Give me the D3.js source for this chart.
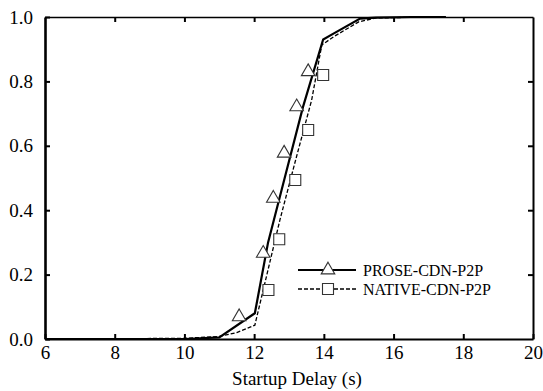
<!DOCTYPE html>
<html>
<head>
<meta charset="utf-8">
<script src="https://cdn.jsdelivr.net/npm/d3@7"></script>
<style>
  body { margin: 0; background: #fff; }
</style>
</head>
<body>
<div id="chart"></div>
<script>
// curve data
var proseX = [6, 10, 11, 12.02, 12.4, 12.9, 13.4, 13.98, 14.3, 15.04, 15.5, 16.5, 17.5];
var proseY = [0, 0, 0.005, 0.08, 0.3, 0.51, 0.72, 0.93, 0.95, 0.995, 0.998, 1, 1];
var nativeX = [6, 10, 11, 11.5, 12.02, 12.3, 12.74, 13.2, 13.65, 13.94, 14.3, 15, 15.5, 16.5, 17.5];
var nativeY = [0, 0.002, 0.008, 0.02, 0.043, 0.17, 0.37, 0.56, 0.742, 0.913, 0.94, 0.985, 0.997, 0.999, 1];

// marker positions
var proseMarkX = [11.57, 12.26, 12.55, 12.86, 13.22, 13.55];
var proseMarkY = [0.069, 0.266, 0.437, 0.577, 0.721, 0.83];
var nativeMarkX = [12.41, 12.72, 13.18, 13.55, 13.98];
var nativeMarkY = [0.152, 0.31, 0.494, 0.649, 0.82];

var xTicks = [6, 8, 10, 12, 14, 16, 18, 20];
var yTicks = [0, 0.2, 0.4, 0.6, 0.8, 1.0];
var seriesNames = ["PROSE-CDN-P2P", "NATIVE-CDN-P2P"];

var serif = "'Liberation Serif'";

var margin = {top: 17, right: 10, bottom: 52, left: 45};
var W = 543, H = 391;
var width = W - margin.left - margin.right;
var height = H - margin.top - margin.bottom;

var svg = d3.select("#chart").append("svg")
    .attr("width", W).attr("height", H)
  .append("g")
    .attr("transform", "translate(" + margin.left + "," + margin.top + ")");

var x = d3.scaleLinear().domain([6, 20]).range([0, width]);
var y = d3.scaleLinear().domain([0, 1]).range([height, 0]);

// axes, ticks pointing inward
var axBottom = svg.append("g")
    .attr("transform", "translate(0," + height + ")")
    .call(d3.axisBottom(x).tickValues(xTicks).tickSize(-5).tickSizeOuter(0).tickPadding(7)
          .tickFormat(d3.format("d")));
var axLeft = svg.append("g")
    .call(d3.axisLeft(y).tickValues(yTicks).tickSize(-5).tickSizeOuter(0).tickPadding(12)
          .tickFormat(d3.format(".1f")));
var axTop = svg.append("g")
    .call(d3.axisTop(x).tickValues(xTicks.slice(1, -1)).tickSize(-5).tickSizeOuter(0).tickFormat(""));
var axRight = svg.append("g")
    .attr("transform", "translate(" + width + ",0)")
    .call(d3.axisRight(y).tickValues(yTicks.slice(1, -1)).tickSize(-5).tickSizeOuter(0).tickFormat(""));

[axBottom, axLeft, axTop, axRight].forEach(function(a){
  a.selectAll("text").style("font-family", serif).style("font-size", "19px").attr("fill", "#000");
  a.selectAll("line").attr("stroke", "#000").attr("stroke-width", 2);
});
axLeft.select(".domain").attr("stroke-width", 2.6);
axBottom.select(".domain").attr("stroke-width", 2.2);
axTop.select(".domain").attr("stroke-width", 1.6);
axRight.select(".domain").attr("stroke-width", 2);

// axis title
svg.append("text")
    .attr("x", width / 2 + 8)
    .attr("y", height + 46)
    .attr("text-anchor", "middle")
    .style("font-family", serif)
    .style("font-size", "19px")
    .text("Startup Delay (s)");

var line = d3.line().x(function(d){ return x(d[0]); }).y(function(d){ return y(d[1]); });

var prose = d3.zip(proseX, proseY);
var nativ = d3.zip(nativeX, nativeY);

svg.append("path").datum(nativ)
    .attr("d", line).attr("fill", "none")
    .attr("stroke", "#000").attr("stroke-width", 1.3)
    .attr("stroke-dasharray", "4,2");
svg.append("path").datum(prose)
    .attr("d", line).attr("fill", "none")
    .attr("stroke", "#000").attr("stroke-width", 2.2);

var tri = d3.symbol().type(d3.symbolTriangle).size(80);
var sq = d3.symbol().type(d3.symbolSquare).size(121);

svg.selectAll(".tri").data(d3.zip(proseMarkX, proseMarkY))
  .enter().append("path").attr("class", "tri")
    .attr("d", tri)
    .attr("transform", function(d){ return "translate(" + x(d[0]) + "," + y(d[1]) + ")"; })
    .attr("fill", "#fff").attr("stroke", "#333").attr("stroke-width", 1.1);
svg.selectAll(".sq").data(d3.zip(nativeMarkX, nativeMarkY))
  .enter().append("path").attr("class", "sq")
    .attr("d", sq)
    .attr("transform", function(d){ return "translate(" + x(d[0]) + "," + y(d[1]) + ")"; })
    .attr("fill", "#fff").attr("stroke", "#333").attr("stroke-width", 1.1);

// legend
var legend = svg.selectAll(".legendEntry").data(seriesNames)
  .enter().append("g").attr("class", "legendEntry")
    .attr("transform", function(d, i){ return "translate(253," + (253 + i * 19) + ")"; });
legend.append("line")
    .attr("x1", 0).attr("x2", 58).attr("y1", 0).attr("y2", 0)
    .attr("stroke", "#000")
    .attr("stroke-width", function(d, i){ return i == 0 ? 2.2 : 1.3; })
    .attr("stroke-dasharray", function(d, i){ return i == 0 ? null : "4,2"; });
legend.append("path")
    .attr("d", function(d, i){ return i == 0 ? tri() : sq(); })
    .attr("transform", "translate(30,0)")
    .attr("fill", "#fff").attr("stroke", "#333").attr("stroke-width", 1.1);
legend.append("text")
    .attr("x", 65).attr("dy", "0.35em")
    .style("font-family", serif)
    .style("font-size", "16px")
    .text(function(d){ return d; });
</script>
</body>
</html>
